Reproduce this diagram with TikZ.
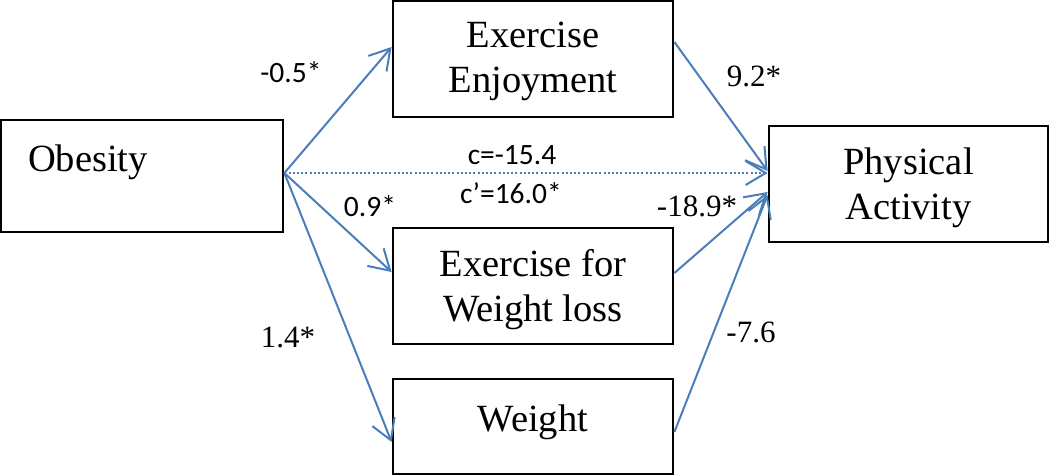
\documentclass[tikz,border=0pt]{standalone}
\usepackage{fontspec}
\setmainfont{Liberation Serif}
\newfontfamily\labelsans{Carlito}
\usetikzlibrary{arrows.meta}
\definecolor{pathblue}{HTML}{4A7EBB}
\begin{document}
\begin{tikzpicture}[x=1pt,y=-1pt,
  box/.style={draw=black,line width=2.8pt,fill=white,inner sep=0pt},
  boxtext/.style={font=\fontsize{38.5}{45}\selectfont,align=center,inner sep=0pt},
  path/.style={draw=pathblue,line width=2pt,-{Straight Barb[length=20pt,width=24pt,line width=2pt]}},
  dotpath/.style={path,dash pattern=on 2pt off 2.2pt},
  sanslab/.style={font=\labelsans\fontsize{29.5}{31}\selectfont,inner sep=0pt},
  seriflab/.style={font=\fontsize{31}{33}\selectfont,inner sep=0pt}]
\useasboundingbox (0,0) rectangle (1050,476);
% boxes
\node[box,minimum width=282pt,minimum height=112pt] (obesity) at (142,176) {};
\node[boxtext] (obesitytext) at (88,162) {Obesity};
\node[box,minimum width=280pt,minimum height=116pt] (ee) at (533,59) {};
\node[boxtext] (eetext) at (533,61) {Exercise\\Enjoyment};
\node[box,minimum width=280pt,minimum height=116pt] (ewl) at (533,286) {};
\node[boxtext] (ewltext) at (533,290) {Exercise for\\Weight loss};
\node[box,minimum width=280pt,minimum height=95pt] (wt) at (533,426.5) {};
\node[boxtext] (wttext) at (533,422) {Weight};
\node[box,minimum width=279pt,minimum height=116pt] (pa) at (908.5,184) {};
\node[boxtext] (patext) at (908.5,188) {Physical\\Activity};
% connectors
\coordinate (src) at ([yshift=3pt]obesity.east);
\draw[path] (src) -- ([yshift=12pt]ee.west);
\draw[path] (src) -- ([yshift=14pt]ewl.west);
\draw[path] (src) -- ([yshift=-15.5pt]wt.west);
\draw[dotpath] (src) -- ([yshift=11pt]pa.west);
\draw[path] ([yshift=17pt]ee.east) -- ([yshift=13pt]pa.west);
\draw[path] ([yshift=13pt]ewl.east) -- ([yshift=-8pt]pa.west);
\draw[path] ([yshift=-5.5pt]wt.east) -- ([yshift=-11pt]pa.west);
% labels
\node[sanslab] (l1) at (291,72) {-0.5*};
\node[sanslab] (l2) at (370,206) {0.9*};
\node[sanslab] (l3) at (512,155) {c=-15.4};
\node[sanslab] (l4) at (511,193) {c’=16.0*};
\node[seriflab] (l5) at (754,76) {9.2*};
\node[seriflab] (l6) at (697,206) {-18.9*};
\node[seriflab] (l7) at (288,337) {1.4*};
\node[seriflab] (l8) at (751,332) {-7.6};
\end{tikzpicture}
\end{document}
